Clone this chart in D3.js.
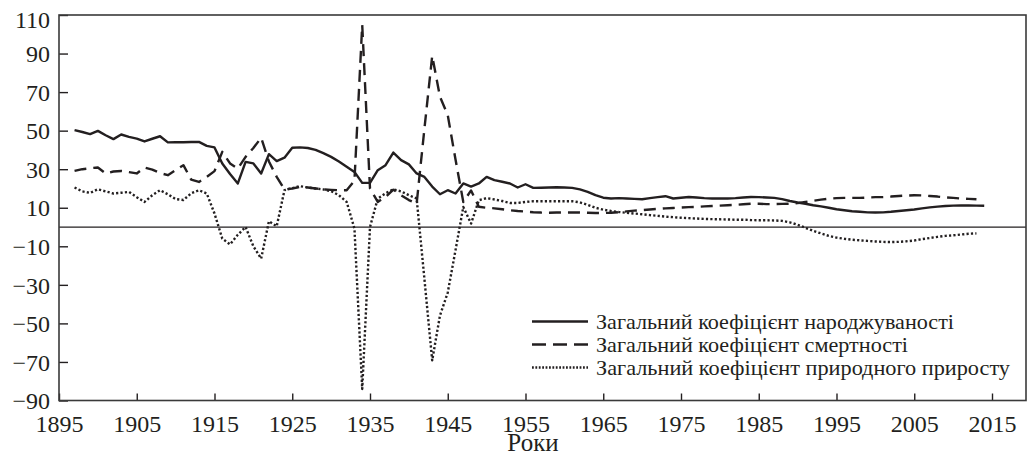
<!DOCTYPE html>
<html>
<head>
<meta charset="utf-8">
<script src="https://cdn.jsdelivr.net/npm/d3@7"></script>
<style>
  body { margin: 0; background: #fff; }
  svg { display: block; }
</style>
</head>
<body>
<svg id="chart" width="1027" height="463"></svg>
<script>
// birth rate 1897-2014
const birthStart = 1897;
const birth = [50.3, 49.3, 48.2, 49.9, 47.6, 45.6, 48.0, 46.8, 45.9, 44.4,
  45.8, 47.1, 43.9, 44.0, 44.0, 44.1, 44.2, 42.1, 41.3, 33.0,
  27.5, 22.6, 33.8, 33.0, 27.8, 37.8, 34.2, 36.0, 41.1, 41.3,
  41.0, 40.0, 38.3, 36.4, 34.0, 31.3, 28.6, 22.9, 22.9, 29.5,
  32.1, 38.6, 34.7, 32.5, 27.8, 26.0, 21.0, 17.0, 19.1, 17.4,
  22.6, 21.0, 22.6, 26.0, 24.3, 23.5, 22.6, 20.5, 22.2, 20.3,
  20.4, 20.5, 20.6, 20.5, 20.3, 19.5, 18.2, 16.5, 15.2, 14.8,
  15.0, 14.8, 14.6, 14.4, 15.0, 15.5, 16.0, 14.8, 15.2, 15.6,
  15.3, 15.0, 14.8, 14.8, 14.8, 15.0, 15.3, 15.6, 15.5, 15.3,
  15.1, 14.5, 13.5, 12.7, 12.1, 11.3, 10.7, 10.0, 9.2, 8.7,
  8.2, 7.9, 7.6, 7.5, 7.6, 7.9, 8.3, 8.7, 9.1, 9.7,
  10.2, 10.6, 10.9, 11.1, 11.2, 11.2, 11.1, 11.0];

// death rate 1897-2013
const deathStart = 1897;
const death = [29.1, 30.0, 30.5, 30.9, 27.8, 28.8, 29.1, 28.5, 27.8, 30.9,
  29.8, 28.0, 26.9, 29.5, 32.1, 24.6, 23.4, 26.0, 29.0, 39.0,
  33.0, 30.3, 36.4, 41.0, 46.3, 34.0, 26.0, 19.5, 20.0, 20.8,
  20.5, 20.0, 19.5, 19.3, 19.1, 19.1, 24.0, 104.8, 20.0, 13.0,
  15.6, 19.4, 16.5, 14.0, 12.2, 51.0, 88.8, 67.6, 58.0, 35.0,
  13.0, 19.0, 10.5, 10.0, 9.7, 9.2, 8.7, 8.3, 8.0, 7.7,
  7.5, 7.4, 7.5, 7.5, 7.5, 7.5, 7.4, 7.3, 7.3, 7.4,
  7.7, 8.1, 8.5, 8.8, 9.1, 9.4, 9.7, 9.9, 10.1, 10.3,
  10.4, 10.7, 10.9, 11.1, 11.3, 11.5, 11.8, 12.1, 12.1, 11.9,
  11.9, 12.0, 12.1, 12.4, 13.0, 13.6, 14.2, 14.7, 15.0, 15.1,
  15.1, 15.1, 15.3, 15.5, 15.6, 15.8, 16.1, 16.3, 16.5, 16.4,
  16.1, 15.8, 15.4, 15.1, 14.8, 14.6, 14.4];

// natural increase 1897-2013
const natStart = 1897;
const natural = [20.5, 18.5, 17.7, 19.6, 18.5, 17.4, 17.8, 18.2, 15.5, 13.0,
  16.5, 19.1, 17.0, 14.5, 14.0, 17.5, 19.1, 17.4, 7.0, -6.0,
  -9.0, -4.0, 0.0, -10.0, -16.4, 3.0, 0.4, 19.1, 20.2, 21.2,
  20.5, 20.0, 19.5, 18.6, 16.5, 13.0, -0.8, -84.0, 0.0, 14.8,
  17.5, 19.5, 18.5, 16.5, 14.8, -27.0, -69.2, -45.9, -34.0, -12.0,
  10.4, 1.8, 13.9, 15.0, 14.3, 13.5, 12.5, 12.5, 13.0, 13.4,
  13.4, 13.4, 13.4, 13.4, 13.4, 12.8, 11.5, 10.0, 9.0, 8.3,
  7.8, 7.4, 7.0, 6.6, 6.2, 5.8, 5.4, 5.1, 4.8, 4.6,
  4.4, 4.2, 4.1, 4.0, 3.9, 3.8, 3.8, 3.6, 3.5, 3.5,
  3.4, 3.2, 2.4, 1.2, -0.4, -2.0, -3.3, -4.6, -5.5, -6.1,
  -6.6, -6.9, -7.2, -7.5, -7.7, -7.8, -7.7, -7.4, -7.0, -6.3,
  -5.7, -5.1, -4.6, -4.3, -3.9, -3.5, -3.3];

const xTicks = d3.range(1895, 2016, 10);
const yTicks = d3.range(-90, 111, 20);
const seriesNames = ["Загальний коефіцієнт народжуваності", "Загальний коефіцієнт смертності", "Загальний коефіцієнт природного приросту"];
const xTitle = "Роки";

const FONT = '"Liberation Serif", "DejaVu Serif", serif';
const INK = '#231f20';

const svg = d3.select('#chart');
const m = { left: 59, right: 1026, top: 15, bottom: 400.5 };

const x = d3.scaleLinear().domain([1895, 1895 + (m.right - m.left) / 7.775]).range([m.left, m.right]);
const y = d3.scaleLinear().domain([-90, 110]).range([m.bottom, m.top]);

const toPts = (start, arr) => arr.map((v, i) => [start + i, v]);
const line = d3.line().x(d => x(d[0])).y(d => y(d[1]));

const series = [
  { pts: toPts(birthStart, birth), dash: null, w: 2.4 },
  { pts: toPts(deathStart, death), dash: '12,7', w: 2.4 },
  { pts: toPts(natStart, natural), dash: '2.2,2.2', w: 2.4 }
];

// zero line
svg.append('line')
  .attr('x1', m.left).attr('x2', m.right)
  .attr('y1', y(0)).attr('y2', y(0))
  .attr('stroke', INK).attr('stroke-width', 1.2);

svg.selectAll('path.series')
  .data(series)
  .join('path')
  .attr('class', 'series')
  .attr('d', d => line(d.pts))
  .attr('fill', 'none')
  .attr('stroke', INK)
  .attr('stroke-width', d => d.w)
  .attr('stroke-dasharray', d => d.dash)
  .attr('stroke-linejoin', 'round');

// axes
const yAxis = svg.append('g')
  .attr('transform', `translate(${m.left},0)`)
  .call(d3.axisLeft(y).tickValues(yTicks).tickSizeInner(-9).tickSizeOuter(0).tickPadding(9)
    .tickFormat(d => d < 0 ? '\u2212' + Math.abs(d) : d));
yAxis.attr('font-family', FONT).attr('font-size', 24);
yAxis.select('.domain').remove();
yAxis.selectAll('text').attr('fill', INK)
  .attr('dy', d => d === 110 ? '0.5em' : '0.34em');
yAxis.selectAll('line').attr('stroke', INK).attr('stroke-width', 1.4);

const xAxis = svg.append('g')
  .attr('transform', `translate(0,${m.bottom})`)
  .call(d3.axisBottom(x).tickValues(xTicks).tickSizeInner(-7).tickSizeOuter(0).tickPadding(14)
    .tickFormat(d3.format('d')));
xAxis.attr('font-family', FONT).attr('font-size', 24);
xAxis.select('.domain').remove();
xAxis.selectAll('text').attr('fill', INK);
xAxis.selectAll('line').attr('stroke', INK).attr('stroke-width', 1.4);

// frame
svg.append('rect')
  .attr('x', m.left).attr('y', m.top)
  .attr('width', m.right - m.left).attr('height', m.bottom - m.top)
  .attr('fill', 'none').attr('stroke', '#3a3a3a').attr('stroke-width', 1.6);

svg.append('text')
  .attr('x', 533).attr('y', 451)
  .attr('text-anchor', 'middle')
  .attr('font-family', FONT)
  .attr('font-size', 25)
  .attr('fill', INK)
  .text(xTitle);

// legend
const legendW = [358, 312, 414];
const lg = svg.append('g').attr('transform', 'translate(532,328.5)');
const rows = lg.selectAll('g')
  .data(series)
  .join('g')
  .attr('transform', (d, i) => `translate(0,${i * 23})`);
rows.append('line')
  .attr('x1', 0).attr('x2', 56).attr('y1', -7).attr('y2', -7)
  .attr('stroke', INK)
  .attr('stroke-width', d => d.w)
  .attr('stroke-dasharray', (d, i) => i === 1 ? '14,7' : (i === 2 ? '1.8,1.6' : null));
rows.append('text')
  .attr('x', 64)
  .attr('font-family', FONT)
  .attr('font-size', 21)
  .attr('fill', INK)
  .attr('textLength', (d, i) => legendW[i])
  .attr('lengthAdjust', 'spacingAndGlyphs')
  .text((d, i) => seriesNames[i]);
</script>
</body>
</html>
